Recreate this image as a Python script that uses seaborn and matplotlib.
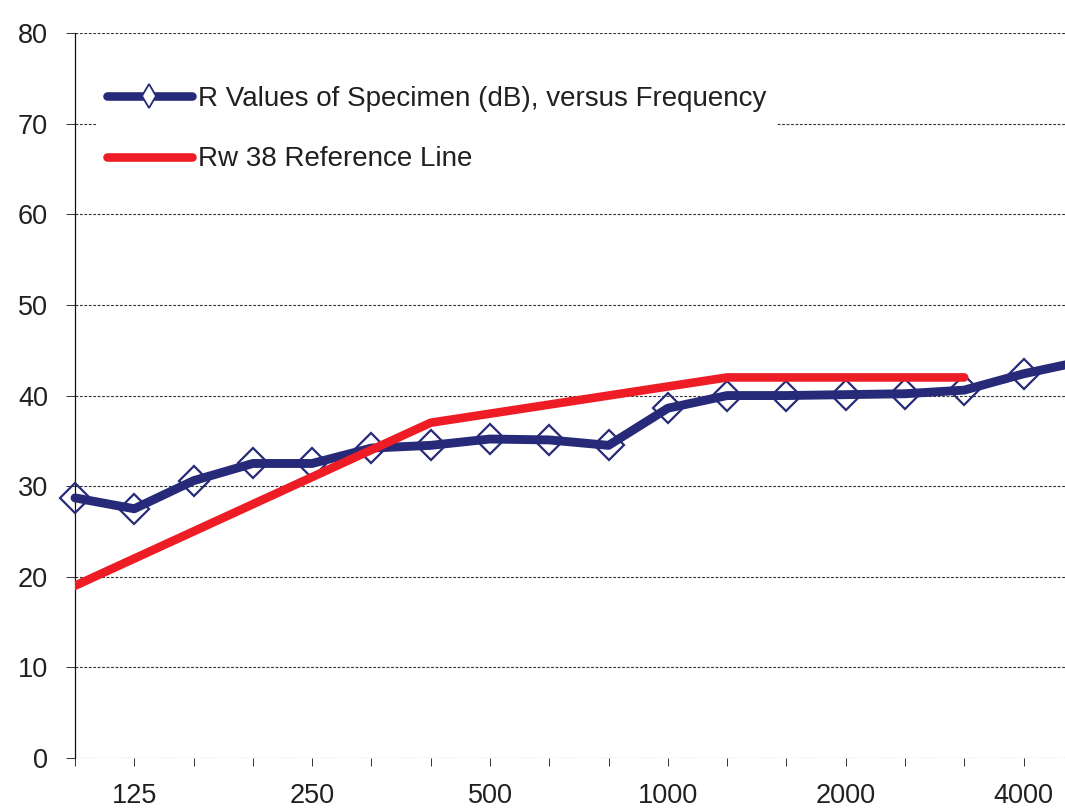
import matplotlib
matplotlib.use("Agg")
import matplotlib.pyplot as plt
from matplotlib.lines import Line2D
import numpy as np
import pandas as pd
import seaborn as sns

# One-third octave band centre frequencies (Hz)
freqs = [100, 125, 160, 200, 250, 315, 400, 500, 630, 800,
         1000, 1250, 1600, 2000, 2500, 3150, 4000, 5000]
# Measured sound reduction index R of the specimen (dB)
r_values = [28.7, 27.5, 30.6, 32.5, 32.5, 34.2, 34.5, 35.2, 35.1, 34.5,
            38.6, 40.0, 40.0, 40.1, 40.2, 40.6, 42.4, 43.8]
# Shifted ISO 717-1 reference curve for Rw 38 (100 - 3150 Hz)
ref_values = [19, 22, 25, 28, 31, 34, 37, 38, 39, 40, 41, 42, 42, 42, 42, 42]
labelled_freqs = [125, 250, 500, 1000, 2000, 4000]

series_r = "R Values of Specimen (dB), versus Frequency"
series_ref = "Rw 38 Reference Line"

df_r = pd.DataFrame({"band": np.arange(len(freqs)), "R": r_values})
df_ref = pd.DataFrame({"band": np.arange(len(ref_values)), "R": ref_values})

sns.set_style("white")
plt.rcParams["font.family"] = ["Liberation Sans Narrow", "Liberation Sans",
                               "DejaVu Sans"]
plt.rcParams["text.color"] = "#231f20"

NAVY = "#262a78"
RED = "#ee1c25"
INK = "#231f20"

W, H = 1065, 809
fig = plt.figure(figsize=(W / 100, H / 100), dpi=100)
ax = fig.add_axes([75 / W, 1 - 757.8 / H, 1 - 75 / W, (757.8 - 33.3) / H])

sns.lineplot(data=df_r, x="band", y="R", ax=ax, color=NAVY, linewidth=6.4,
             marker="D", markersize=15, markerfacecolor="none",
             markeredgecolor=NAVY, markeredgewidth=1.6,
             solid_capstyle="round", solid_joinstyle="round", zorder=3)
# let the first diamond sit across the y axis line
ax.lines[0].set_clip_on(False)
sns.lineplot(data=df_ref, x="band", y="R", ax=ax, color=RED, linewidth=6.2,
             solid_capstyle="round", solid_joinstyle="round", zorder=4)

ax.set_yticks(np.arange(0, 81, 10))
ax.set_xticks(np.arange(len(freqs)))
ax.set_xticklabels([str(f) if f in labelled_freqs else "" for f in freqs])
ax.set_xlim(0, 16.70)
ax.set_ylim(0, 80)
ax.set_xlabel("")
ax.set_ylabel("")

ax.grid(axis="y", color="#333333", linestyle=(0, (2.5, 1.5)), linewidth=0.8)
ax.grid(axis="x", visible=False)
for side in ("top", "right", "bottom"):
    ax.spines[side].set_visible(False)
ax.spines["left"].set_color("#111111")
ax.spines["left"].set_linewidth(0.9)

ax.tick_params(axis="y", direction="out", length=6.5, width=0.7,
               color="#333333", pad=13, labelsize=19.5, labelcolor=INK, left=True)
ax.tick_params(axis="x", direction="out", length=5.8, width=0.7,
               color="#333333", pad=12, labelsize=19.5, labelcolor=INK, bottom=True)

handles = [
    Line2D([], [], color=NAVY, linewidth=6.2, solid_capstyle="round",
           marker="d", markersize=12, markerfacecolor="white",
           markeredgecolor=NAVY, markeredgewidth=1.3),
    Line2D([], [], color=RED, linewidth=6.2, solid_capstyle="round"),
]
leg = fig.legend(handles, [series_r, series_ref], loc="upper left",
                 bbox_to_anchor=(96 / W, 1 - 75 / H), borderaxespad=0,
                 fontsize=20, frameon=True, facecolor="white",
                 edgecolor="none", fancybox=False, framealpha=1,
                 handlelength=3.05, handletextpad=0.22, labelspacing=1.23,
                 borderpad=0.4)
leg.set_zorder(5)

fig.savefig("out.png", dpi=100)
